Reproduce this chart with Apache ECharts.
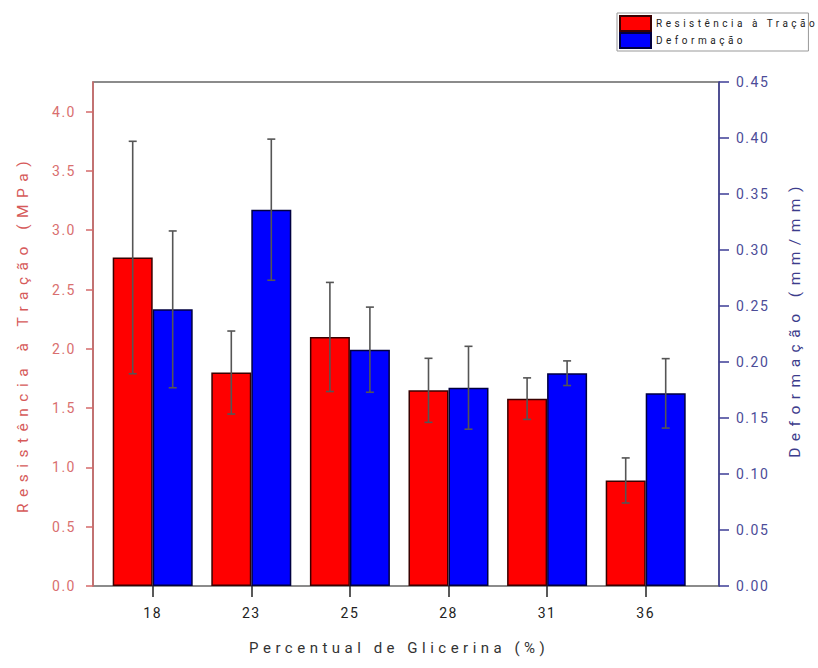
<!DOCTYPE html>
<html>
<head>
<meta charset="utf-8">
<script src="https://cdn.jsdelivr.net/npm/echarts@6/dist/echarts.min.js"></script>
<style>
  html, body { margin: 0; padding: 0; background: #fff; }
  #chart { width: 818px; height: 668px; }
  svg text { letter-spacing: 1.5px; }
  svg text[style*="15px"] { letter-spacing: 4.5px; }
  svg text[style*="15.5px"] { letter-spacing: 6.5px; }
  svg text[style*="10px"] { letter-spacing: 3.5px; }
</style>
</head>
<body>
<div id="chart"></div>
<script>
const categories = ['18', '23', '25', '28', '31', '36'];
const tensile = [2.77, 1.80, 2.10, 1.65, 1.58, 0.89];
const tensileErr = [0.98, 0.35, 0.46, 0.27, 0.175, 0.19];
const strain = [0.247, 0.336, 0.211, 0.177, 0.190, 0.172];
const strainErr = [0.070, 0.063, 0.038, 0.037, 0.011, 0.031];
const seriesNames = ['Resistência à Tração', 'Deformação'];

const BAR_W = 40;
const chart = echarts.init(document.getElementById('chart'), null, { renderer: 'svg' });

function errRender(offset) {
  return function (params, api) {
    const i = api.value(0), v = api.value(1), e = api.value(2);
    const hi = api.coord([i, v + e]);
    const lo = api.coord([i, v - e]);
    const x = hi[0] + offset;
    const cw = 4;
    const st = { stroke: '#555', lineWidth: 1.6 };
    return {
      type: 'group',
      children: [
        { type: 'line', shape: { x1: x, y1: hi[1], x2: x, y2: lo[1] }, style: st },
        { type: 'line', shape: { x1: x - cw, y1: hi[1], x2: x + cw, y2: hi[1] }, style: st },
        { type: 'line', shape: { x1: x - cw, y1: lo[1], x2: x + cw, y2: lo[1] }, style: st }
      ]
    };
  };
}

const option = {
  backgroundColor: '#fff',
  animation: false,
  grid: [
    { left: 103.4, right: 123, top: 82, bottom: 82, containLabel: false },
    { left: 93, right: 99, top: 82, bottom: 82, show: true, borderColor: '#666', borderWidth: 1.5, backgroundColor: 'transparent', z: 0 }
  ],
  legend: {
    left: 617, top: 13,
    orient: 'vertical',
    itemWidth: 31, itemHeight: 15, itemGap: 0,
    padding: [2, 60, 2, 2],
    borderColor: '#999', borderWidth: 1,
    icon: 'rect',
    data: seriesNames,
    textStyle: { fontSize: 10, color: '#222', fontFamily: 'Roboto' }
  },
  xAxis: [
    {
      type: 'category', gridIndex: 0, data: categories,
      axisLine: { show: false },
      axisTick: { show: true, alignWithLabel: true, length: 11, lineStyle: { color: '#222', width: 1.5 } },
      axisLabel: { margin: 20, fontSize: 14, color: '#222', fontFamily: 'Roboto' },
      name: 'Percentual de Glicerina (%)', nameLocation: 'middle', nameGap: 54,
      nameTextStyle: { fontSize: 15, color: '#333', fontFamily: 'Roboto' }
    },
    { type: 'value', gridIndex: 1, show: false }
  ],
  yAxis: [
    {
      type: 'value', gridIndex: 0, position: 'left', offset: 10.4,
      min: 0, max: 4.25, interval: 0.5,
      splitLine: { show: false },
      axisLine: { show: true, lineStyle: { color: '#d46a6a', width: 1.5 } },
      axisTick: { show: true, length: 7, lineStyle: { color: '#d46a6a', width: 1.5 } },
      axisLabel: { showMaxLabel: false, margin: 17, fontSize: 14, color: '#d96f6f', fontFamily: 'Roboto',
        formatter: v => v.toFixed(1) },
      name: 'Resistência à Tração (MPa)', nameLocation: 'middle', nameGap: 62,
      nameTextStyle: { fontSize: 15.5, color: '#d65a5a', fontFamily: 'Roboto' }
    },
    {
      type: 'value', gridIndex: 0, position: 'right', offset: 24,
      min: 0, max: 0.45, interval: 0.05,
      splitLine: { show: false },
      axisLine: { show: true, lineStyle: { color: '#3c3c96', width: 1.5 } },
      axisTick: { show: true, length: 10, lineStyle: { color: '#3c3c96', width: 1.5 } },
      axisLabel: { margin: 17, fontSize: 14, color: '#4c4c98', fontFamily: 'Roboto',
        formatter: v => v.toFixed(2) },
      name: 'Deformação (mm/mm)', nameLocation: 'middle', nameGap: 68,
      nameTextStyle: { fontSize: 15.5, color: '#3c3c8c', fontFamily: 'Roboto', padding: [0, 0, 0, 30] }
    },
    { type: 'value', gridIndex: 1, show: false }
  ],
  series: [
    {
      name: seriesNames[0], type: 'bar', xAxisIndex: 0, yAxisIndex: 0,
      barWidth: BAR_W, barGap: '0%',
      data: tensile,
      itemStyle: { color: '#ff0000', borderColor: '#3a0000', borderWidth: 1.5 }
    },
    {
      name: seriesNames[1], type: 'bar', xAxisIndex: 0, yAxisIndex: 1,
      barWidth: BAR_W, barGap: '0%',
      data: strain,
      itemStyle: { color: '#0000ff', borderColor: '#000040', borderWidth: 1.5 }
    },
    {
      type: 'custom', xAxisIndex: 0, yAxisIndex: 0, z: 5,
      renderItem: errRender(-BAR_W / 2),
      data: categories.map((c, i) => [i, tensile[i], tensileErr[i]])
    },
    {
      type: 'custom', xAxisIndex: 0, yAxisIndex: 1, z: 5,
      renderItem: errRender(BAR_W / 2),
      data: categories.map((c, i) => [i, strain[i], strainErr[i]])
    }
  ]
};
chart.setOption(option);
</script>
</body>
</html>
